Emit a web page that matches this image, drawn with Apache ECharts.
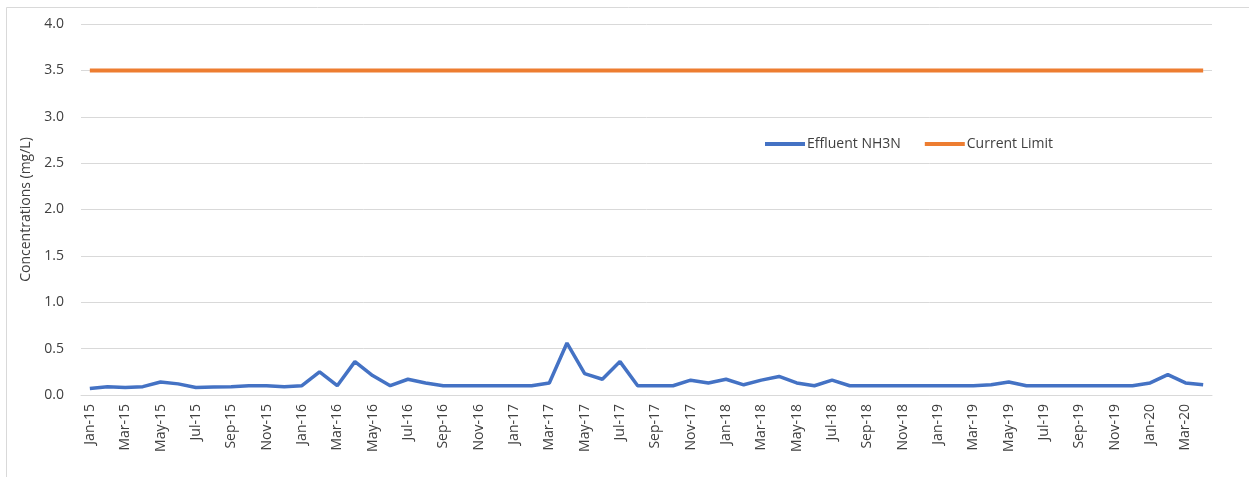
<!DOCTYPE html>
<html>
<head>
<meta charset="utf-8">
<script src="https://cdn.jsdelivr.net/npm/echarts@6/dist/echarts.min.js"></script>
<style>
  html, body { margin: 0; padding: 0; background: #fff; }
  #chart { width: 1249px; height: 477px; }
</style>
</head>
<body>
<div id="chart"></div>
<script>
// Monthly sampling dates, Jan-15 through Apr-20
const months = [
  'Jan-15','Feb-15','Mar-15','Apr-15','May-15','Jun-15','Jul-15','Aug-15','Sep-15','Oct-15','Nov-15','Dec-15',
  'Jan-16','Feb-16','Mar-16','Apr-16','May-16','Jun-16','Jul-16','Aug-16','Sep-16','Oct-16','Nov-16','Dec-16',
  'Jan-17','Feb-17','Mar-17','Apr-17','May-17','Jun-17','Jul-17','Aug-17','Sep-17','Oct-17','Nov-17','Dec-17',
  'Jan-18','Feb-18','Mar-18','Apr-18','May-18','Jun-18','Jul-18','Aug-18','Sep-18','Oct-18','Nov-18','Dec-18',
  'Jan-19','Feb-19','Mar-19','Apr-19','May-19','Jun-19','Jul-19','Aug-19','Sep-19','Oct-19','Nov-19','Dec-19',
  'Jan-20','Feb-20','Mar-20','Apr-20'
];

// Effluent ammonia nitrogen (mg/L)
const effluentNH3N = [
  0.07, 0.09, 0.08, 0.09, 0.14, 0.12, 0.08, 0.085, 0.09, 0.10, 0.10, 0.09,
  0.10, 0.25, 0.10, 0.36, 0.21, 0.10, 0.17, 0.13, 0.10, 0.10, 0.10, 0.10,
  0.10, 0.10, 0.13, 0.56, 0.23, 0.17, 0.36, 0.10, 0.10, 0.10, 0.16, 0.13,
  0.17, 0.11, 0.16, 0.20, 0.13, 0.10, 0.16, 0.10, 0.10, 0.10, 0.10, 0.10,
  0.10, 0.10, 0.10, 0.11, 0.14, 0.10, 0.10, 0.10, 0.10, 0.10, 0.10, 0.10,
  0.13, 0.22, 0.13, 0.11
];

// Permit limit (mg/L)
const currentLimit = months.map(() => 3.5);

const yTicks = { min: 0, max: 4, interval: 0.5 };

const textColor = '#404040';
const gridColor = '#d9d9d9';
const fontFamily = '"Open Sans", "Liberation Sans", sans-serif';

const chart = echarts.init(document.getElementById('chart'), null, { renderer: 'canvas' });

chart.setOption({
  animation: false,
  backgroundColor: '#fff',
  graphic: [{
    type: 'rect',
    shape: { x: 6.5, y: 7.5, width: 1250, height: 500 },
    style: { fill: 'none', stroke: '#d9d9d9', lineWidth: 1 },
    silent: true
  }],
  grid: { left: 81, right: 37, top: 24, bottom: 82, containLabel: false },
  legend: {
    left: 760,
    top: 132,
    itemWidth: 40,
    itemHeight: 4,
    itemGap: 24,
    icon: 'rect',
    textStyle: { color: textColor, fontSize: 14, fontFamily: fontFamily, padding: [0, 0, 0, -3] },
    data: ['Effluent NH3N', 'Current Limit']
  },
  xAxis: {
    type: 'category',
    data: months,
    boundaryGap: true,
    axisLine: { show: true, lineStyle: { color: gridColor, width: 1 } },
    axisTick: { show: false },
    axisLabel: {
      interval: 1,
      rotate: 90,
      color: textColor,
      fontSize: 14,
      fontFamily: fontFamily,
      margin: 9
    },
    splitLine: { show: false }
  },
  yAxis: {
    type: 'value',
    min: yTicks.min,
    max: yTicks.max,
    interval: yTicks.interval,
    name: 'Concentrations (mg/L)',
    nameLocation: 'middle',
    nameGap: 45,
    nameRotate: 90,
    nameTextStyle: { color: textColor, fontSize: 14, fontFamily: fontFamily },
    axisLine: { show: false },
    axisTick: { show: false },
    axisLabel: {
      color: textColor,
      fontSize: 14,
      fontFamily: fontFamily,
      margin: 17,
      formatter: v => v.toFixed(1)
    },
    splitLine: { show: true, lineStyle: { color: gridColor, width: 1 } }
  },
  series: [
    {
      name: 'Effluent NH3N',
      type: 'line',
      data: effluentNH3N,
      symbol: 'none',
      smooth: false,
      lineStyle: { color: '#4472C4', width: 3.5 },
      itemStyle: { color: '#4472C4' },
      z: 3
    },
    {
      name: 'Current Limit',
      type: 'line',
      data: currentLimit,
      symbol: 'none',
      lineStyle: { color: '#ED7D31', width: 4 },
      itemStyle: { color: '#ED7D31' },
      z: 2
    }
  ]
});
</script>
</body>
</html>
